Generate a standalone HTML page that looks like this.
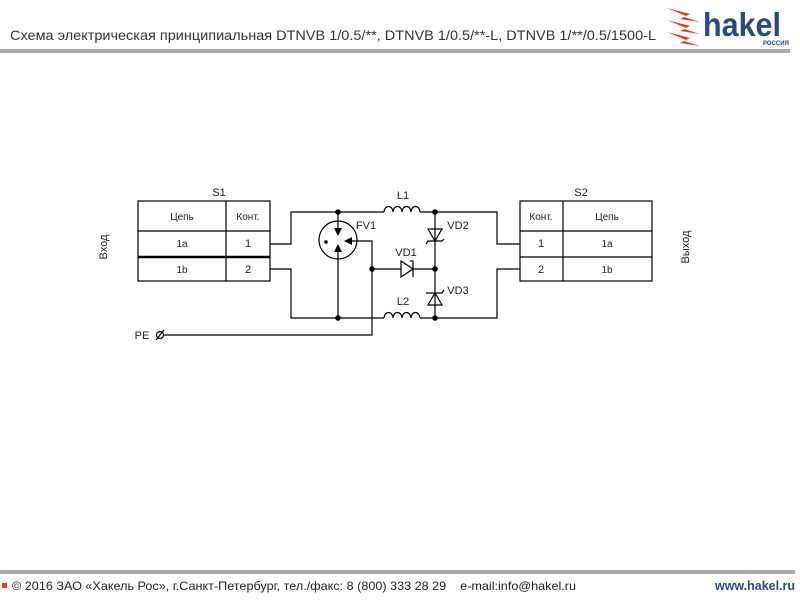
<!DOCTYPE html>
<html><head><meta charset="utf-8"><style>
body{margin:0;background:#fff;width:800px;height:600px;overflow:hidden}
svg{display:block}
</style></head><body>
<svg width="800" height="600" viewBox="0 0 800 600" xmlns="http://www.w3.org/2000/svg" font-family="Liberation Sans, sans-serif">
<text x="10" y="40" font-size="14" fill="#333" textLength="646" lengthAdjust="spacingAndGlyphs">Схема электрическая принципиальная DTNVB 1/0.5/**, DTNVB 1/0.5/**-L, DTNVB 1/**/0.5/1500-L</text>
<rect x="0" y="49" width="790" height="4" fill="#a8a8a8"/>
<!-- logo -->
<g fill="#e53a2a">
<polygon points="667,8 690,14 684,17 700,22 680,19 686,16"/>
<polygon points="667,20 690,26 684,29 700,34 680,31 686,28"/>
<polygon points="667,32 690,38 684,41 700,46 680,43 686,40"/>
</g>
<text x="703" y="36" font-size="33" font-weight="bold" fill="#2a4a7c" textLength="78" lengthAdjust="spacingAndGlyphs">hakel</text>
<text x="763" y="45" font-size="6" font-weight="bold" fill="#2a4a7c">РОССИЯ</text>
<!-- schematic -->
<g stroke="#000" stroke-width="1.2" fill="none">
<rect x="138" y="201" width="132" height="80"/>
<line x1="226" y1="201" x2="226" y2="281"/>
<line x1="138" y1="231" x2="270" y2="231"/>
<line x1="138" y1="257" x2="270" y2="257" stroke-width="2.5"/>
<rect x="520" y="201" width="132" height="80"/>
<line x1="563" y1="201" x2="563" y2="281"/>
<line x1="520" y1="231" x2="652" y2="231"/>
<line x1="520" y1="257" x2="652" y2="257"/>
<polyline points="270,244 291,244 291,212 384,212"/>
<polyline points="420,212 497,212 497,244 520,244"/>
<polyline points="270,269 291,269 291,318 384,318"/>
<polyline points="420,318 497,318 497,269 520,269"/>
<path d="M384,212 a4.5,5.5 0 0 1 9,0 a4.5,5.5 0 0 1 9,0 a4.5,5.5 0 0 1 9,0 a4.5,5.5 0 0 1 9,0"/>
<path d="M384,318 a4.5,5.5 0 0 1 9,0 a4.5,5.5 0 0 1 9,0 a4.5,5.5 0 0 1 9,0 a4.5,5.5 0 0 1 9,0"/>
<circle cx="338" cy="240" r="19"/>
<line x1="338" y1="212" x2="338" y2="230"/>
<line x1="338" y1="250" x2="338" y2="318"/>
<polyline points="347,241 372,241 372,335 164,335"/>
<line x1="372" y1="269" x2="401" y2="269"/>
<line x1="413" y1="269" x2="435" y2="269"/>
<line x1="435" y1="212" x2="435" y2="318"/>
<polygon points="401,261 401,277 413,269"/>
<polyline points="410,261 413,261 413,277"/>
<polygon points="428,229 442,229 435,241"/>
<polyline points="426,244 428,241 442,241 444,239"/>
<polygon points="428,305 442,305 435,293"/>
<polyline points="426,293 428,293 442,293 444,290"/>
<circle cx="160" cy="335" r="3.5"/>
<line x1="156" y1="340" x2="164" y2="330"/>
</g>
<g fill="#000">
<polygon points="334,228 342,228 338,236"/>
<polygon points="334,252 342,252 338,244"/>
<polygon points="352,237 352,245 344,241"/>
<circle cx="326" cy="242" r="1.8"/>
<circle cx="338" cy="212" r="2.8"/><circle cx="435" cy="212" r="2.8"/>
<circle cx="338" cy="318" r="2.8"/><circle cx="435" cy="318" r="2.8"/>
<circle cx="372" cy="269" r="2.8"/><circle cx="435" cy="269" r="2.8"/>
</g>
<g font-size="11" fill="#222" text-anchor="middle">
<text x="219" y="196">S1</text><text x="581" y="196">S2</text>
<text x="182" y="220" font-size="10">Цепь</text><text x="248" y="220" font-size="10">Конт.</text>
<text x="182" y="247" font-size="10">1a</text><text x="248" y="247">1</text>
<text x="182" y="273" font-size="10">1b</text><text x="248" y="273">2</text>
<text x="541" y="220" font-size="10">Конт.</text><text x="607" y="220" font-size="10">Цепь</text>
<text x="541" y="247">1</text><text x="607" y="247" font-size="10">1a</text>
<text x="541" y="273">2</text><text x="607" y="273" font-size="10">1b</text>
<text x="403" y="199">L1</text><text x="403" y="305">L2</text>
<text x="366" y="229">FV1</text>
<text x="406" y="256">VD1</text>
<text x="458" y="229">VD2</text>
<text x="458" y="294">VD3</text>
<text x="142" y="339">PE</text>
<text transform="translate(107,247) rotate(-90)">Вход</text>
<text transform="translate(689,247) rotate(-90)">Выход</text>
</g>
<rect x="0" y="570" width="795" height="4" fill="#a8a8a8"/>
<rect x="2" y="583" width="5" height="5" fill="#e53a2a"/>
<text x="12" y="590" font-size="12" fill="#222" textLength="564" lengthAdjust="spacingAndGlyphs">© 2016 ЗАО «Хакель Рос», г.Санкт-Петербург, тел./факс: 8 (800) 333 28 29&#160;&#160;&#160;&#160;e-mail:info@hakel.ru</text>
<text x="715" y="590" font-size="13" font-weight="bold" fill="#2a4a7c" textLength="80" lengthAdjust="spacingAndGlyphs">www.hakel.ru</text>
</svg>
</body></html>
